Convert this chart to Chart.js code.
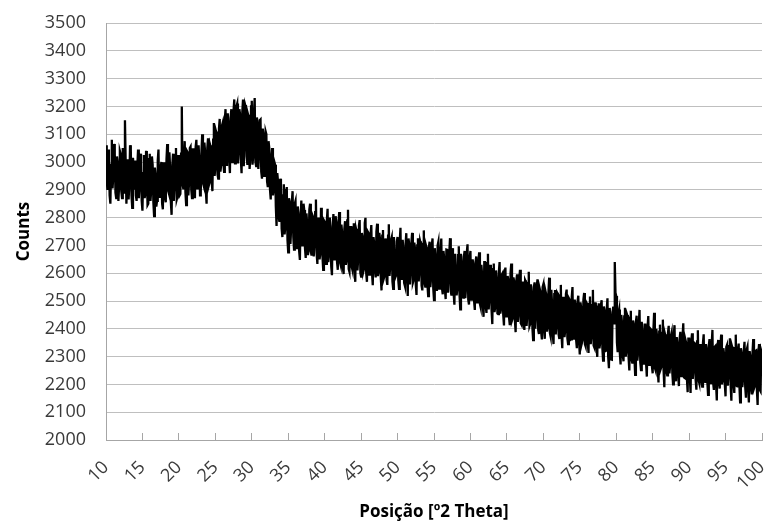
<!DOCTYPE html>
<html>
<head>
<meta charset="utf-8">
<script src="https://cdn.jsdelivr.net/npm/chart.js@4.4.1/dist/chart.umd.min.js"></script>
<style>
    html, body { margin: 0; padding: 0; background: #fff; }
    .chart-container { position: relative; width: 766px; height: 527px; }
</style>
</head>
<body>
<div class="chart-container"><canvas id="xrdChart" width="766" height="527"></canvas></div>
<script>
// scan settings: first angle and step between readings (°2θ)
const twoThetaStart = 10;
const twoThetaStep = 0.1;

// axis ranges and tick steps
const xRange = [10, 100];
const xTickStep = 5;
const yRange = [2000, 3500];
const yTickStep = 100;

// counts, one line per 2°
const counts = [
    3060, 2935, 2900, 3045, 3010, 2880, 2850, 2990, 3080, 2905, 2950, 3065, 3030, 2890, 2870, 3020, 3000, 2860, 2915, 3040, // 10
    3030, 2895, 2870, 3050, 2980, 2890, 3150, 3000, 2850, 2940, 3010, 2865, 2920, 3060, 3045, 2880, 2835, 3015, 2975, 2900, // 12
    3005, 2880, 2860, 2985, 3045, 2870, 2915, 3030, 2990, 2860, 2825, 2960, 3025, 2870, 2885, 3040, 2970, 2845, 2850, 3010, // 14
    3030, 2860, 2895, 3020, 2990, 2855, 2805, 2980, 2955, 2840, 2860, 3005, 3045, 2875, 2915, 2980, 3000, 2850, 2830, 2995, // 16
    2995, 2870, 2855, 3010, 3065, 2900, 2890, 3035, 2975, 2855, 2810, 2990, 3030, 2860, 2920, 3000, 3050, 2865, 2875, 3025, // 18
    3005, 2880, 2885, 3030, 3200, 2920, 2905, 3010, 3075, 2890, 2845, 3040, 3035, 2880, 2930, 3050, 3055, 2900, 2870, 3045, // 20
    3045, 2900, 2870, 3055, 3080, 2905, 2935, 3060, 3010, 2880, 2890, 3040, 3100, 2925, 2915, 3070, 3035, 2895, 2850, 3050, // 22
    3085, 2915, 2925, 3060, 3050, 2930, 2895, 3080, 3140, 2950, 2980, 3110, 3100, 2955, 2940, 3120, 3155, 2965, 2990, 3130, // 24
    3140, 3000, 2965, 3150, 3190, 2990, 3035, 3175, 3140, 3010, 2960, 3160, 3190, 3000, 3020, 3185, 3225, 2995, 3065, 3200, // 26
    3210, 2995, 3040, 3190, 3170, 3010, 2960, 3180, 3225, 2985, 3065, 3205, 3195, 3020, 2990, 3170, 3160, 2975, 3015, 3200, // 28
    3220, 2990, 3022, 3180, 3230, 3000, 2985, 3160, 3140, 2975, 3030, 3150, 3153, 2965, 2940, 3120, 3100, 2950, 2960, 3110, // 30
    3100, 2930, 2910, 3075, 3050, 2900, 2865, 3020, 3050, 2880, 2900, 3000, 2990, 2840, 2770, 2960, 2930, 2800, 2785, 2940, // 32
    2925, 2760, 2730, 2880, 2920, 2740, 2765, 2900, 2910, 2720, 2675, 2870, 2855, 2705, 2760, 2860, 2895, 2730, 2685, 2850, // 34
    2860, 2690, 2713, 2840, 2816, 2680, 2648, 2800, 2861, 2700, 2734, 2850, 2827, 2690, 2655, 2815, 2778, 2665, 2681, 2830, // 36
    2850, 2680, 2663, 2810, 2803, 2660, 2706, 2820, 2865, 2670, 2633, 2800, 2770, 2650, 2670, 2835, 2813, 2660, 2612, 2790, // 38
    2785, 2660, 2634, 2790, 2832, 2640, 2670, 2800, 2755, 2625, 2593, 2770, 2813, 2650, 2695, 2805, 2783, 2640, 2612, 2780, // 40
    2820, 2640, 2629, 2775, 2743, 2620, 2597, 2760, 2787, 2630, 2646, 2790, 2828, 2615, 2605, 2770, 2714, 2625, 2613, 2765, // 42
    2780, 2615, 2569, 2760, 2748, 2610, 2652, 2770, 2791, 2600, 2588, 2745, 2732, 2605, 2616, 2780, 2799, 2600, 2569, 2750, // 44
    2745, 2595, 2634, 2740, 2773, 2600, 2557, 2730, 2706, 2610, 2585, 2750, 2778, 2590, 2606, 2745, 2720, 2585, 2538, 2735, // 46
    2755, 2580, 2589, 2725, 2704, 2575, 2558, 2735, 2776, 2590, 2627, 2720, 2730, 2570, 2544, 2730, 2677, 2585, 2592, 2715, // 48
    2730, 2575, 2544, 2715, 2763, 2580, 2597, 2720, 2686, 2565, 2555, 2705, 2744, 2580, 2518, 2725, 2703, 2560, 2607, 2710, // 50
    2745, 2565, 2574, 2710, 2688, 2560, 2522, 2700, 2726, 2570, 2610, 2715, 2704, 2555, 2538, 2705, 2754, 2565, 2552, 2700, // 52
    2690, 2560, 2518, 2695, 2713, 2550, 2582, 2700, 2725, 2545, 2503, 2690, 2657, 2540, 2552, 2700, 2713, 2545, 2562, 2680, // 54
    2725, 2545, 2524, 2680, 2653, 2540, 2507, 2685, 2684, 2530, 2578, 2675, 2726, 2535, 2520, 2690, 2658, 2525, 2487, 2670, // 56
    2670, 2520, 2544, 2665, 2697, 2525, 2470, 2670, 2639, 2515, 2512, 2660, 2680, 2510, 2548, 2675, 2704, 2505, 2487, 2655, // 58
    2680, 2505, 2508, 2650, 2630, 2500, 2468, 2640, 2660, 2495, 2537, 2645, 2675, 2490, 2478, 2630, 2595, 2485, 2443, 2640, // 60
    2640, 2480, 2457, 2620, 2670, 2470, 2507, 2630, 2610, 2465, 2417, 2615, 2635, 2460, 2478, 2610, 2580, 2455, 2453, 2605, // 62
    2640, 2455, 2472, 2595, 2600, 2450, 2412, 2605, 2620, 2445, 2482, 2590, 2575, 2440, 2413, 2600, 2635, 2430, 2438, 2585, // 64
    2570, 2430, 2388, 2575, 2596, 2425, 2454, 2580, 2612, 2420, 2415, 2570, 2533, 2415, 2396, 2575, 2569, 2410, 2447, 2565, // 66
    2605, 2410, 2418, 2560, 2531, 2405, 2359, 2550, 2567, 2400, 2450, 2555, 2578, 2395, 2381, 2545, 2534, 2390, 2362, 2550, // 68
    2560, 2395, 2364, 2535, 2523, 2390, 2406, 2530, 2584, 2385, 2372, 2540, 2490, 2380, 2345, 2525, 2540, 2380, 2412, 2530, // 70
    2525, 2380, 2363, 2520, 2558, 2375, 2330, 2515, 2493, 2370, 2393, 2525, 2541, 2365, 2345, 2510, 2505, 2360, 2362, 2515, // 72
    2550, 2365, 2373, 2505, 2487, 2360, 2330, 2500, 2519, 2355, 2308, 2495, 2472, 2350, 2361, 2505, 2529, 2345, 2337, 2495, // 74
    2490, 2350, 2313, 2490, 2516, 2345, 2374, 2485, 2540, 2340, 2333, 2495, 2451, 2335, 2299, 2480, 2492, 2330, 2350, 2485, // 76
    2503, 2330, 2286, 2480, 2464, 2320, 2322, 2470, 2510, 2300, 2258, 2475, 2446, 2290, 2289, 2460, 2480, 2420, 2640, 2530, // 78
    2518, 2350, 2316, 2455, 2469, 2310, 2272, 2450, 2420, 2305, 2283, 2445, 2476, 2300, 2319, 2450, 2442, 2295, 2250, 2440, // 80
    2465, 2290, 2278, 2430, 2416, 2295, 2234, 2425, 2447, 2285, 2315, 2420, 2468, 2280, 2251, 2425, 2384, 2275, 2282, 2415, // 82
    2415, 2275, 2228, 2405, 2446, 2270, 2289, 2400, 2397, 2265, 2240, 2395, 2458, 2260, 2251, 2400, 2374, 2255, 2207, 2390, // 84
    2415, 2255, 2263, 2385, 2433, 2250, 2190, 2380, 2369, 2245, 2233, 2385, 2411, 2240, 2268, 2375, 2387, 2240, 2200, 2380, // 86
    2413, 2240, 2211, 2370, 2346, 2235, 2194, 2365, 2389, 2230, 2252, 2370, 2420, 2225, 2223, 2360, 2349, 2220, 2172, 2365, // 88
    2365, 2225, 2169, 2355, 2384, 2220, 2254, 2350, 2348, 2215, 2181, 2355, 2395, 2215, 2204, 2345, 2313, 2210, 2192, 2350, // 90
    2380, 2215, 2209, 2345, 2328, 2210, 2162, 2340, 2363, 2205, 2232, 2345, 2396, 2205, 2180, 2335, 2338, 2200, 2142, 2340, // 92
    2360, 2205, 2185, 2335, 2379, 2200, 2214, 2330, 2308, 2200, 2157, 2335, 2342, 2195, 2232, 2330, 2366, 2195, 2141, 2335, // 94
    2325, 2200, 2169, 2330, 2379, 2195, 2193, 2325, 2347, 2195, 2135, 2330, 2311, 2190, 2219, 2320, 2353, 2190, 2152, 2325, // 96
    2335, 2190, 2135, 2320, 2300, 2185, 2164, 2315, 2363, 2185, 2193, 2320, 2322, 2180, 2126, 2315, 2345, 2180, 2175, 2320, // 98
    2310                                                                                                                    // 100
];

const angles = counts.map((_, i) => +(twoThetaStart + i * twoThetaStep).toFixed(1));

const axisGray = '#a6a6a6';
const tickColor = '#3a3a3a';

Chart.defaults.font.family = "'Open Sans', sans-serif";
Chart.defaults.devicePixelRatio = 1;

new Chart(document.getElementById('xrdChart'), {
    type: 'line',
    data: {
        labels: angles,
        datasets: [{
            label: 'Counts',
            data: counts,
            borderColor: '#000000',
            borderWidth: 2.3,
            borderJoinStyle: 'miter',
            pointRadius: 0,
            tension: 0,
            fill: false
        }]
    },
    options: {
        responsive: false,
        animation: false,
        layout: {
            padding: { left: 10, top: 23, right: 4, bottom: 1 }
        },
        plugins: {
            legend: { display: false },
            tooltip: { enabled: false }
        },
        scales: {
            x: {
                type: 'linear',
                min: xRange[0],
                max: xRange[1],
                afterFit: scale => {
                    scale.height = 86;
                    scale.paddingLeft = 0;
                    scale.paddingRight = 0;
                },
                border: { color: axisGray },
                grid: {
                    drawOnChartArea: false,
                    drawTicks: true,
                    tickLength: -7,
                    color: axisGray
                },
                ticks: {
                    stepSize: xTickStep,
                    autoSkip: false,
                    minRotation: 45,
                    maxRotation: 45,
                    padding: 24,
                    color: tickColor,
                    font: { size: 18 }
                },
                title: {
                    display: true,
                    text: 'Posição [º2 Theta]',
                    color: '#000',
                    font: { size: 17, weight: 'bold' }
                }
            },
            y: {
                min: yRange[0],
                max: yRange[1],
                afterFit: scale => {
                    scale.width = 96;
                    scale.paddingTop = 0;
                    scale.paddingBottom = 0;
                },
                border: { color: axisGray },
                grid: {
                    color: '#bfbfbf',
                    drawTicks: false
                },
                ticks: {
                    stepSize: yTickStep,
                    padding: 20,
                    color: tickColor,
                    font: { size: 18 },
                    callback: value => String(value)
                },
                title: {
                    display: true,
                    text: 'Counts',
                    color: '#000',
                    font: { size: 17, weight: 'bold' }
                }
            }
        }
    }
});
</script>
</body>
</html>
